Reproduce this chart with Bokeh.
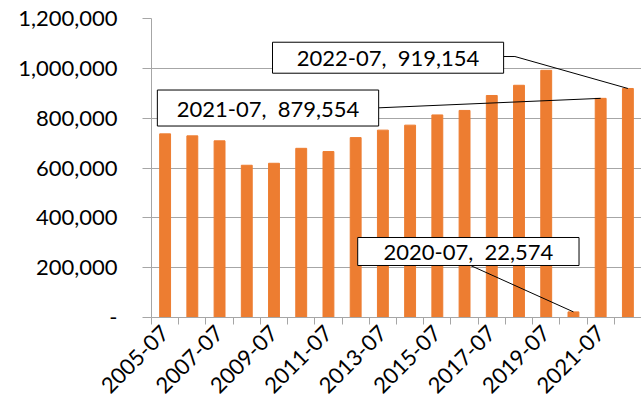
import math
from bokeh.plotting import figure
from bokeh.models import Range1d, FixedTicker, ColumnDataSource
from bokeh.embed import file_html
from bokeh.resources import INLINE
from bokeh.core.properties import value

# ---- data ----
categories = ["2005-07", "2006-07", "2007-07", "2008-07", "2009-07", "2010-07",
              "2011-07", "2012-07", "2013-07", "2014-07", "2015-07", "2016-07",
              "2017-07", "2018-07", "2019-07", "2020-07", "2021-07", "2022-07"]
values = [737000, 729000, 709000, 611000, 619000, 679000,
          666000, 722000, 752000, 772000, 813000, 831000,
          891000, 932000, 992000, 22574, 879554, 919154]
y_ticks = [0, 200000, 400000, 600000, 800000, 1000000, 1200000]
y_tick_labels = ["-", "200,000", "400,000", "600,000", "800,000", "1,000,000", "1,200,000"]
x_tick_labels = categories[::2]
callout_categories = ["2022-07", "2021-07", "2020-07"]

# ---- layout constants for callouts (data units) ----
callout_layout = {
    "2022-07": dict(cx=8.69, cy=1042600, w=8.49, h=124400, sx=12.94, sy=1047400, ex=13.35),
    "2021-07": dict(cx=4.28, cy=840700, w=8.13, h=144500, sx=8.35, sy=841500, ex=None),
    "2020-07": dict(cx=11.64, cy=264900, w=8.13, h=112400, sx=11.72, sy=208700, ex=None),
}

FONT = "Lato"
FS = "22px"
GRID = "#A6A6A6"
BAR = "#ED7D31"

n = len(categories)
xpos = [i + 0.5 for i in range(n)]

p = figure(width=641, height=404, output_backend="svg", toolbar_location=None,
           x_range=Range1d(0, n), y_range=Range1d(0, 1200000),
           min_border_left=151, min_border_right=0, min_border_top=18, min_border_bottom=87)
p.outline_line_color = None
p.background_fill_color = "white"
p.border_fill_color = "white"

p.vbar(x=xpos, top=values, width=0.4, fill_color=BAR, line_color=BAR)

xs, ys = [], []
for cat in callout_categories:
    i = categories.index(cat)
    L = callout_layout[cat]
    lx = [L["sx"]]
    ly = [L["sy"]]
    if L["ex"] is not None:
        lx.append(L["ex"])
        ly.append(L["sy"])
    lx.append(xpos[i])
    ly.append(values[i])
    xs.append(lx)
    ys.append(ly)
p.multi_line(xs=xs, ys=ys, line_color="black", line_width=1)

SEP = ",\u00a0\u00a0"
bsrc = ColumnDataSource(dict(
    x=[callout_layout[c]["cx"] for c in callout_categories],
    y=[callout_layout[c]["cy"] for c in callout_categories],
    w=[callout_layout[c]["w"] for c in callout_categories],
    h=[callout_layout[c]["h"] for c in callout_categories],
    t=[f"{c}{SEP}{values[categories.index(c)]:,}" for c in callout_categories],
))
p.rect(x="x", y="y", width="w", height="h", source=bsrc, fill_color="white", line_color="black", line_width=1)
p.text(x="x", y="y", text="t", source=bsrc, text_align="center", text_baseline="middle",
       text_font=value(FONT), text_font_size=FS, text_color="black")

p.xgrid.visible = False
p.ygrid.grid_line_color = GRID
p.ygrid.ticker = FixedTicker(ticks=y_ticks)

xa = p.xaxis[0]
xa.ticker = FixedTicker(ticks=xpos[::2], minor_ticks=list(range(n + 1)))
xa.major_label_overrides = {xpos[::2][k]: lab for k, lab in enumerate(x_tick_labels)}
xa.major_label_orientation = math.pi / 4
xa.major_tick_line_color = None
xa.minor_tick_line_color = GRID
xa.minor_tick_out = 7
xa.minor_tick_in = 0
xa.axis_line_color = GRID
xa.major_label_text_font = FONT
xa.major_label_text_font_size = FS
xa.major_label_text_color = "black"
xa.major_label_standoff = 5

ya = p.yaxis[0]
ya.ticker = FixedTicker(ticks=y_ticks)
ya.major_label_overrides = {t: lab for t, lab in zip(y_ticks, y_tick_labels)}
ya.major_tick_out = 9
ya.major_tick_in = 0
ya.minor_tick_line_color = None
ya.major_tick_line_color = GRID
ya.axis_line_color = GRID
ya.major_label_text_font = FONT
ya.major_label_text_font_size = FS
ya.major_label_text_color = "black"
ya.major_label_standoff = 25

open("out.html", "w").write(file_html(p, INLINE))
